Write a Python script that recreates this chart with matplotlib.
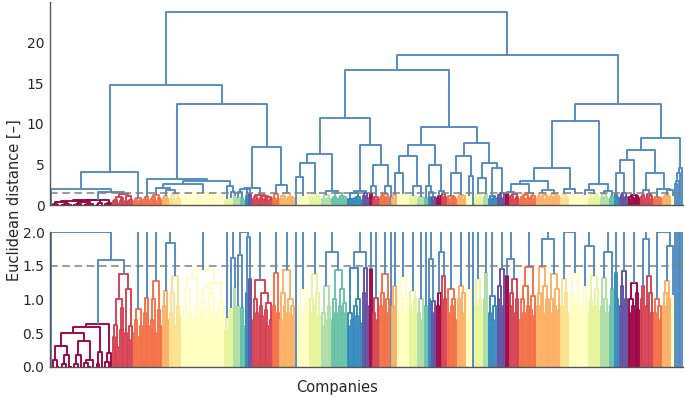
import numpy as np
import matplotlib
matplotlib.use("Agg")
import matplotlib.pyplot as plt
import seaborn as sns
from matplotlib.collections import LineCollection

# merge heights between neighbouring companies inside each coloured cluster
# (one list per cluster, left to right; [] = company that joins only above the cut)
unit_gaps = [
    [],
    [0.0, 0.11, 0.0, 0.0, 0.31, 0.0, 0.05, 0.0, 0.18, 0.0, 0.0, 0.5, 0.0, 0.04, 0.0, 0.18, 0.0,
     0.38, 0.0, 0.06, 0.0, 0.0, 0.11, 0.0, 0.59, 0.0, 0.05, 0.22, 0.0, 0.63, 0.0, 0.08, 0.0, 0.2],
    [0.45, 0.62, 0.3, 1.0, 0.55, 0.87, 1.38, 0.5, 1.15, 0.4, 0.6],
    [0.5, 0.7, 0.86, 0.45, 0.6],
    [0.8, 1.02, 0.6],
    [0.7, 1.0, 0.5, 1.27, 0.85, 0.6],
    [0.9, 1.12, 0.7],
    [0.8, 1.1, 0.6, 1.35, 0.9, 0.75],
    [0.6, 0.9, 0.7, 1.15, 0.8, 0.65, 1.32, 0.75, 0.9, 0.7, 1.43, 0.85, 1.0, 0.7, 1.17, 0.9, 0.75,
     1.1, 0.8, 0.7, 1.25, 0.85, 0.65, 0.95],
    [0.55, 0.72],
    [0.87],
    [1.17],
    [0.9],
    [0.87, 0.6],
    [1.1],
    [1.3],
    [0.7, 1.0, 0.8, 1.29, 0.9, 0.75, 1.1, 0.85, 0.6, 0.95, 0.7],
    [0.9, 1.4, 0.8],
    [0.7, 1.1, 0.9, 1.43, 0.8, 1.0, 0.75, 0.9],
    [],
    [0.6, 0.9, 0.7, 1.15, 0.8, 1.0],
    [0.8, 1.0, 1.38, 0.9, 1.1, 0.75],
    [0.6, 0.8, 1.2, 0.7, 0.9],
    [0.7, 1.0, 0.8, 1.43, 0.9, 1.15, 0.8, 0.95],
    [0.6, 0.8, 0.7, 1.47, 0.9, 0.75, 1.0, 0.65],
    [1.1, 1.47, 0.9],
    [1.45],
    [0.8, 1.02, 0.7],
    [0.9, 1.1, 1.38, 0.8, 1.0],
    [],
    [0.9, 1.2],
    [0.8, 1.1, 0.9, 1.33, 1.0, 0.85],
    [0.9, 1.12, 0.8, 1.0],
    [0.8, 1.0, 0.7],
    [0.9],
    [1.0],
    [0.98, 0.8],
    [0.9, 1.1],
    [1.35, 1.0],
    [0.8, 1.15, 0.9, 1.0, 0.7],
    [1.0, 1.2, 0.8, 1.1],
    [0.9, 1.15, 0.8],
    [],
    [0.9, 1.3, 1.0, 0.8],
    [1.0, 1.4],
    [0.8, 1.05, 0.7, 0.9],
    [1.0, 1.2, 1.45, 0.9],
    [1.35],
    [0.9, 1.1, 1.3, 0.8, 1.0],
    [0.7, 1.0, 0.8, 1.2, 0.9, 1.48, 0.85, 1.05, 0.75],
    [0.9, 1.1, 1.48, 0.8, 1.2, 1.0],
    [0.8, 1.0, 1.38, 0.9, 1.15, 0.85],
    [0.9, 1.3, 1.1, 0.8],
    [0.8, 1.1, 1.4, 0.9, 1.0, 0.85],
    [0.9, 1.2, 1.0],
    [0.8, 1.0, 1.35, 0.9, 1.15, 0.85],
    [0.9, 1.32, 1.0, 0.8],
    [0.9, 1.15],
    [1.4, 1.0],
    [0.9, 1.2, 1.42, 1.0],
    [0.8, 1.0, 0.9, 1.25, 1.1, 0.85],
    [1.0, 1.2],
    [0.9, 1.35, 1.1, 0.8],
    [0.8, 1.0, 0.9, 0.7],
    [0.9, 1.1, 1.27, 1.0],
    [1.07],
    [], [], [], [], [],
]

# Spectral colour index of each cluster (-1: no cluster colour)
unit_colour = [-1, 0, 1, 2, 2, 2, 3, 4, 5, 6, 6, 7, 7, 8, 9, 10, 1, 2, 3, -1,
               5, 6, 7, 8, 9, 10, 0, 1, 2, -1, 3, 5, 6, 7, 8, 9, 10, 0, 1, 2,
               3, 5, -1, 6, 7, 9, 10, 0, 1, 2, 3, 3, 4, 5, 5, 6, 7, 8, 9, 10,
               0, 1, 1, 2, 3, 5, -1, -1, -1, -1, -1]

# height at which each cluster meets the next one to its right
joins = [2.0, 1.58, 4.1, 14.8, 3.2, 2.1, 1.84, 2.55, 2.9, 2.3, 1.61, 12.5, 1.66, 2.0, 1.92,
         2.1, 7.2, 2.5, 23.8, 3.4, 5.2, 6.3, 1.71, 10.7, 1.7, 7.4, 2.4, 4.9, 2.4, 16.6,
         4.0, 6.1, 2.3, 7.4, 2.3, 1.6, 4.9, 1.7, 9.6, 3.9, 6.1, 3.6, 7.7, 3.3, 5.2, 4.6,
         18.5, 1.6, 2.6, 3.0, 1.9, 4.5, 2.0, 10.3, 1.8, 2.6, 1.7, 12.5, 4.0, 5.6, 6.8,
         1.9, 4.0, 2.0, 1.79, 8.2, 2.6, 3.0, 3.9, 4.6]

threshold = 1.5
above_colour = "#5089c0"
palette = ["#9e0142", "#d53e4f", "#f46d43", "#fdae61", "#fee08b", "#ffffbf",
           "#e6f598", "#abdda4", "#66c2a5", "#3288bd", "#5e4fa2"]

gaps = []
leaf_unit = []
for i, g in enumerate(unit_gaps):
    if i > 0:
        gaps.append(joins[i - 1])
    gaps += g
    leaf_unit += [i] * (len(g) + 1)
gaps = np.array(gaps)
n_leaves = len(leaf_unit)

segs, cols = [], []


def build(lo, hi):
    if lo == hi:
        return 5 + 10 * lo, 0.0
    k = lo + int(np.argmax(gaps[lo:hi]))
    xl, hl = build(lo, k)
    xr, hr = build(k + 1, hi)
    h = gaps[k]
    segs.append([(xl, hl), (xl, h), (xr, h), (xr, hr)])
    if h < threshold:
        cols.append(palette[unit_colour[leaf_unit[lo]]])
    else:
        cols.append(above_colour)
    return (xl + xr) / 2, h


build(0, n_leaves - 1)

sns.set_style("white")
plt.rcParams["font.family"] = ["DejaVu Sans"]

fig = plt.figure(figsize=(6.85, 3.97), dpi=100)
ax1 = fig.add_axes([0.073, 0.4836, 0.924, 0.511])
ax2 = fig.add_axes([0.073, 0.0756, 0.924, 0.34])

for ax, top in ((ax1, 25.0), (ax2, 2.0)):
    ax.add_collection(LineCollection(segs, colors=cols, linewidths=1.35))
    ax.axhline(threshold, color="#808080", linestyle="--", linewidth=1.1, dashes=(5, 3))
    ax.set_xlim(0, 10 * n_leaves)
    ax.set_ylim(0, top)
    ax.set_xticks([])
    ax.tick_params(axis="y", length=0, labelsize=10, colors="#262626", pad=4)
    for s in ("top", "right"):
        ax.spines[s].set_visible(False)
    for s in ("left", "bottom"):
        ax.spines[s].set_color("#555555")
        ax.spines[s].set_linewidth(1.0)

ax1.set_yticks([0, 5, 10, 15, 20])
ax2.set_yticks([0.0, 0.5, 1.0, 1.5, 2.0])
ax2.set_yticklabels(["0.0", "0.5", "1.0", "1.5", "2.0"])

fig.text(0.021, 0.497, "Euclidean distance [–]", rotation=90, ha="center", va="center",
         fontsize=10.5, color="#262626")
fig.text(0.492, 0.025, "Companies", ha="center", va="center", fontsize=10.5, color="#262626")

fig.savefig("out.png", dpi=100)
